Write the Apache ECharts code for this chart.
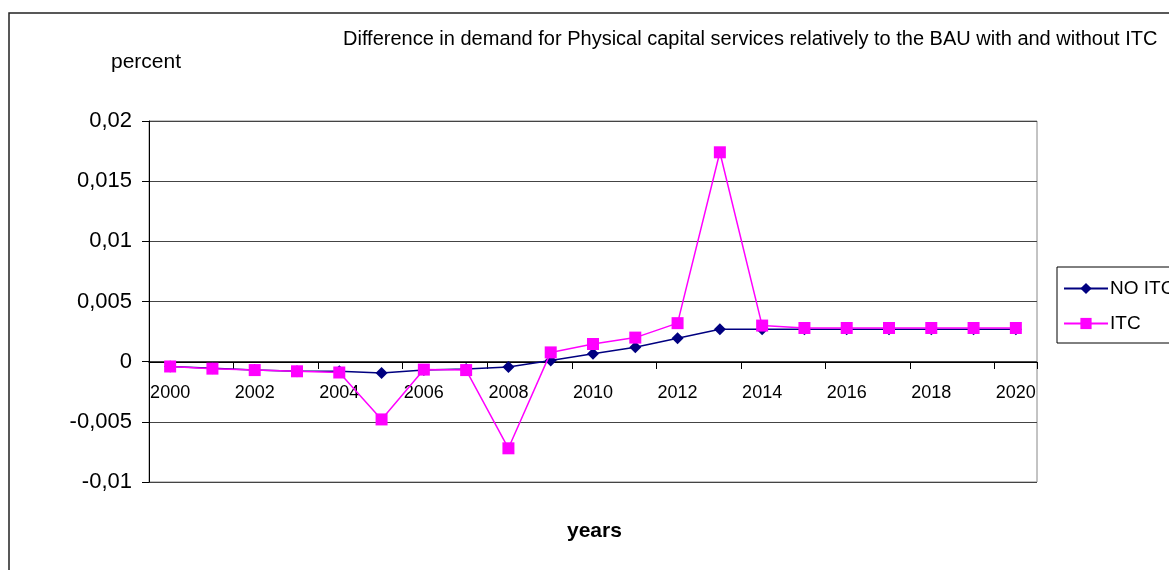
<!DOCTYPE html>
<html>
<head>
<meta charset="utf-8">
<script src="https://cdn.jsdelivr.net/npm/echarts@6/dist/echarts.min.js"></script>
<style>
  html, body { margin: 0; padding: 0; background: #fff; }
  #chart { width: 1169px; height: 570px; }
</style>
</head>
<body>
<div id="chart"></div>
<script>
// years on the x axis
const YEARS = ['2000','2001','2002','2003','2004','2005','2006','2007','2008','2009','2010',
               '2011','2012','2013','2014','2015','2016','2017','2018','2019','2020'];

// difference vs BAU
const NO_ITC = [-0.0004, -0.00055, -0.0007, -0.0008, -0.0008, -0.00095, -0.0007, -0.0006, -0.00045, 0.0001,
                0.00066, 0.0012, 0.00195, 0.0027, 0.0027, 0.0027, 0.0027, 0.0027, 0.0027, 0.0027, 0.0027];
const ITC    = [-0.0004, -0.00058, -0.0007, -0.0008, -0.0009, -0.0048, -0.00066, -0.0007, -0.0072, 0.00077,
                0.00147, 0.002, 0.0032, 0.0174, 0.003, 0.0028, 0.0028, 0.0028, 0.0028, 0.0028, 0.0028];

const FONT = '"Liberation Sans", Arial, sans-serif';

const chart = echarts.init(document.getElementById('chart'), null, { renderer: 'canvas' });

chart.setOption({
  backgroundColor: '#fff',
  animation: false,
  title: [
    {
      text: 'Difference in demand for Physical capital services relatively to the BAU with and without ITC',
      left: 338, top: 24,
      textStyle: { fontFamily: FONT, fontSize: 20, fontWeight: 'normal', color: '#000' }
    },
    {
      text: 'percent',
      left: 106, top: 47,
      textStyle: { fontFamily: FONT, fontSize: 21, fontWeight: 'normal', color: '#000' }
    },
    {
      text: 'years',
      left: 562, top: 516,
      textStyle: { fontFamily: FONT, fontSize: 21, fontWeight: 'bold', color: '#000' }
    }
  ],
  graphic: [{
    type: 'rect',
    shape: { x: 9, y: 13, width: 1300, height: 700 },
    style: { fill: 'none', stroke: '#222', lineWidth: 1.5 },
    silent: true, z: -10
  }],
  legend: {
    left: 1057, top: 267,
    orient: 'vertical',
    padding: [12, 6, 10, 6],
    itemGap: 16,
    itemWidth: 44, itemHeight: 14,
    borderColor: '#000', borderWidth: 1,
    textStyle: { fontFamily: FONT, fontSize: 19, color: '#000', padding: [0, 0, 0, -3] },
    data: ['NO ITC', 'ITC']
  },
  grid: {
    left: 149, right: 132, top: 121, bottom: 88,
    show: true, borderColor: '#888', borderWidth: 1, backgroundColor: '#fff'
  },
  xAxis: {
    type: 'category',
    data: YEARS,
    boundaryGap: true,
    position: 'bottom',
    offset: -120,
    axisLine: { onZero: false, lineStyle: { color: '#000', width: 1 } },
    axisTick: { show: true, length: 7, lineStyle: { color: '#000' } },
    axisLabel: { interval: 1, margin: 22, fontFamily: FONT, fontSize: 18, color: '#000' },
    splitLine: { show: false }
  },
  yAxis: {
    type: 'value',
    min: -0.01, max: 0.02, interval: 0.005,
    axisLine: { show: true, lineStyle: { color: '#000', width: 1 } },
    axisTick: { show: true, length: 7, lineStyle: { color: '#000' } },
    axisLabel: {
      margin: 17, fontFamily: FONT, fontSize: 22, color: '#000',
      formatter: v => String(parseFloat(v.toFixed(4))).replace('.', ',')
    },
    splitLine: { show: true, lineStyle: { color: '#444', width: 1 } }
  },
  series: [
    {
      name: 'NO ITC', type: 'line', data: NO_ITC,
      symbol: 'diamond', symbolSize: 12,
      lineStyle: { color: '#000080', width: 1.5 },
      itemStyle: { color: '#000080' },
      z: 2
    },
    {
      name: 'ITC', type: 'line', data: ITC,
      symbol: 'rect', symbolSize: 12,
      lineStyle: { color: '#ff00ff', width: 1.5 },
      itemStyle: { color: '#ff00ff' },
      z: 3
    }
  ]
});
</script>
</body>
</html>
